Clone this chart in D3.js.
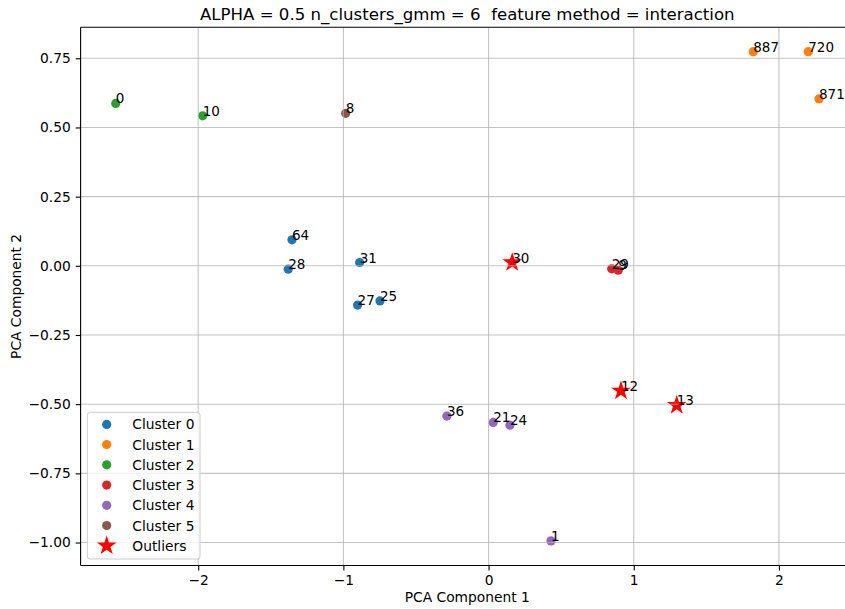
<!DOCTYPE html>
<html>
<head>
<meta charset="utf-8">
<script src="https://cdn.jsdelivr.net/npm/d3@7"></script>
<style>
  html, body { margin: 0; padding: 0; background: #fff; }
  svg { display: block; font-family: "DejaVu Sans", sans-serif; }
</style>
</head>
<body>
<svg id="chart" width="845" height="609"></svg>
<script>
// ---- data ----
const clusterNames = ["Cluster 0", "Cluster 1", "Cluster 2", "Cluster 3", "Cluster 4", "Cluster 5"];
const pointIds   = [0, 10, 8, 64, 28, 31, 27, 25, 29, 9, 887, 720, 871, 36, 21, 24, 1];
const pointX     = [-2.568, -1.969, -0.984, -1.354, -1.380, -0.888, -0.902, -0.748, 0.848, 0.893, 1.823, 2.202, 2.276, -0.287, 0.032, 0.147, 0.430];
const pointY     = [0.587, 0.542, 0.551, 0.094, -0.012, 0.012, -0.142, -0.127, -0.011, -0.016, 0.774, 0.774, 0.603, -0.543, -0.566, -0.576, -0.994];
const pointClust = [2, 2, 5, 0, 0, 0, 0, 0, 3, 3, 1, 1, 1, 4, 4, 4, 4];
const outlierIds = [30, 12, 13];
const outlierX   = [0.163, 0.912, 1.296];
const outlierY   = [0.012, -0.452, -0.504];
const xTicks = [-2, -1, 0, 1, 2];
const yTicks = [-1.0, -0.75, -0.5, -0.25, 0.0, 0.25, 0.5, 0.75];
const xDomain = [-2.81, 2.517];
const yDomain = [-1.083, 0.862];

const colors = ["#1f77b4", "#ff7f0e", "#2ca02c", "#d62728", "#9467bd", "#8c564b"];
const outlierColor = "#ff0000";

const svg = d3.select("#chart");
const L = 80.6, R = 854, T = 27.3, B = 565.5;
const x = d3.scaleLinear().domain(xDomain).range([L, R]);
const y = d3.scaleLinear().domain(yDomain).range([B, T]);

const points = pointIds.map((id, i) => ({ id, x: pointX[i], y: pointY[i], c: pointClust[i] }));
const outliers = outlierIds.map((id, i) => ({ id, x: outlierX[i], y: outlierY[i] }));

svg.append("clipPath").attr("id", "clip").append("rect")
  .attr("x", L).attr("y", T).attr("width", R - L).attr("height", B - T);
const plot = svg.append("g").attr("clip-path", "url(#clip)");

// scatter by cluster
clusterNames.forEach((name, c) => {
  plot.append("g").selectAll("circle")
    .data(points.filter(p => p.c === c))
    .join("circle")
    .attr("cx", d => x(d.x)).attr("cy", d => y(d.y))
    .attr("r", 4.6).attr("fill", colors[c]);
});
// outliers
const star = d3.symbol(d3.symbolStar, 120);
plot.append("g").selectAll("path")
  .data(outliers).join("path")
  .attr("transform", d => `translate(${x(d.x)},${y(d.y)})`)
  .attr("d", star).attr("fill", outlierColor);

// grid (above points like matplotlib default)
const grid = svg.append("g").attr("clip-path", "url(#clip)");
grid.selectAll("line.gx").data(xTicks).join("line")
  .attr("x1", d => x(d)).attr("x2", d => x(d)).attr("y1", T).attr("y2", B)
  .attr("stroke", "#b0b0b0").attr("stroke-opacity", 0.75).attr("stroke-width", 1.1);
grid.selectAll("line.gy").data(yTicks).join("line")
  .attr("y1", d => y(d)).attr("y2", d => y(d)).attr("x1", L).attr("x2", R)
  .attr("stroke", "#b0b0b0").attr("stroke-opacity", 0.75).attr("stroke-width", 1.1);

// annotations
const labels = svg.append("g").attr("font-size", "13.5px").attr("fill", "#000");
labels.selectAll("text.p").data(points).join("text")
  .attr("x", d => x(d.x)).attr("y", d => y(d.y)).text(d => d.id);
labels.selectAll("text.o").data(outliers).join("text")
  .attr("x", d => x(d.x)).attr("y", d => y(d.y)).text(d => d.id);

// axes
const fmtY = d => d3.format(".2f")(d).replace("-", "\u2212");
const fmtX = d => String(d).replace("-", "\u2212");
const xAxis = svg.append("g").attr("transform", `translate(0,${B})`)
  .call(d3.axisBottom(x).tickValues(xTicks).tickFormat(fmtX).tickSize(4.9).tickPadding(4.9));
const yAxis = svg.append("g").attr("transform", `translate(${L},0)`)
  .call(d3.axisLeft(y).tickValues(yTicks).tickFormat(fmtY).tickSize(4.9).tickPadding(4.9));
[xAxis, yAxis].forEach(a => {
  a.selectAll("text").attr("font-family", "DejaVu Sans").attr("font-size", "13.8px").attr("fill", "#000");
  a.selectAll(".tick line").attr("stroke", "#000").attr("stroke-width", 1.1);
  a.select(".domain").remove();
});
// spines
const spines = svg.append("g").attr("stroke", "#000").attr("stroke-width", 1.1).attr("fill", "none");
spines.append("line").attr("x1", L).attr("x2", L).attr("y1", T).attr("y2", B);
spines.append("line").attr("x1", L).attr("x2", R).attr("y1", B).attr("y2", B);
spines.append("line").attr("x1", L).attr("x2", R).attr("y1", T).attr("y2", T);
spines.append("line").attr("x1", R).attr("x2", R).attr("y1", T).attr("y2", B);

// axis labels & title
svg.append("text").attr("x", (L + R) / 2).attr("y", 602).attr("text-anchor", "middle")
  .attr("font-size", "13.8px").text("PCA Component 1");
svg.append("text").attr("transform", `translate(20.5,${(T + B) / 2}) rotate(-90)`)
  .attr("text-anchor", "middle").attr("font-size", "13.8px").text("PCA Component 2");
svg.append("text").attr("x", (L + R) / 2).attr("y", 19.5).attr("text-anchor", "middle")
  .attr("font-size", "16.6px").style("white-space", "pre")
  .text("ALPHA = 0.5 n_clusters_gmm = 6  feature method = interaction");

// legend
const lg = svg.append("g");
lg.append("rect").attr("x", 87.3).attr("y", 412.3).attr("width", 112.7).attr("height", 146.7)
  .attr("rx", 3).attr("fill", "#fff").attr("fill-opacity", 0.8)
  .attr("stroke", "#cccccc").attr("stroke-width", 1);
const legendItems = clusterNames.map((n, i) => ({ name: n, color: colors[i], star: false }))
  .concat([{ name: "Outliers", color: outlierColor, star: true }]);
const rowY = i => 424.4 + i * 20.22;
legendItems.forEach((it, i) => {
  if (it.star) {
    lg.append("path").attr("transform", `translate(106.7,${rowY(i)})`)
      .attr("d", star).attr("fill", it.color);
  } else {
    lg.append("circle").attr("cx", 106.7).attr("cy", rowY(i)).attr("r", 4.6).attr("fill", it.color);
  }
  lg.append("text").attr("x", 132.3).attr("y", rowY(i) + 5).attr("font-size", "13.8px").text(it.name);
});
</script>
</body>
</html>
